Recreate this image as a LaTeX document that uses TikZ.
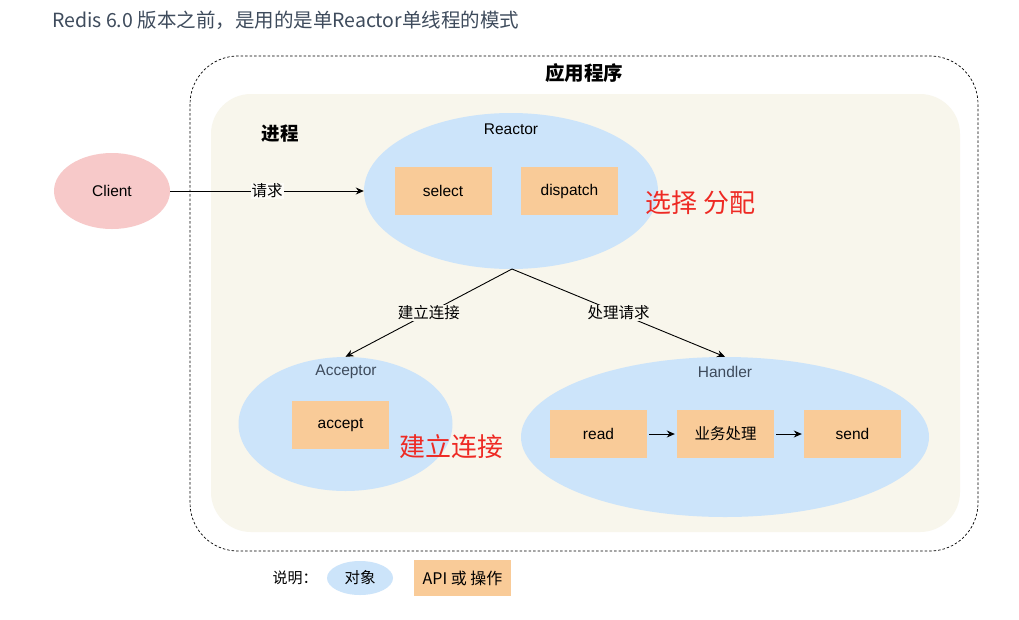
\documentclass[tikz,border=0pt]{standalone}
\usepackage{fontspec}
\setmainfont{Liberation Sans}
\newfontfamily\cjk{Noto Sans CJK SC}
\usetikzlibrary{arrows.meta,shapes.geometric}
\definecolor{beige}{HTML}{F8F6EC}
\definecolor{objblue}{HTML}{CCE4FA}
\definecolor{apiorange}{HTML}{F9CB98}
\definecolor{clientpink}{HTML}{F7C9C9}
\definecolor{slate}{HTML}{3E4B5C}
\definecolor{redtxt}{HTML}{EE2A24}
\tikzset{
  obj/.style={ellipse, fill=objblue, draw=none, inner sep=0pt},
  api/.style={rectangle, fill=apiorange, draw=none, minimum width=97pt, minimum height=48pt, font=\fontsize{15.5}{18}\selectfont},
  conn/.style={draw=black, line width=0.9pt, -{Stealth[length=8pt,width=7pt]}},
  lbl/.style={font=\fontsize{15.5}{18}\selectfont},
  edgelbl/.style={fill=beige, inner sep=1pt, font=\cjk\fontsize{15.5}{18}\selectfont},
  note/.style={text=redtxt, font=\cjk\fontsize{26}{30}\selectfont},
}
\begin{document}
\begin{tikzpicture}[x=1pt,y=-1pt]
\useasboundingbox[fill=white] (0,0) rectangle (1019,619);
% title
\node[anchor=west, text=slate, font=\cjk\fontsize{19.5}{22}\selectfont, inner sep=0pt] (title) at (52,20) {Redis 6.0 版本之前，是用的是单Reactor单线程的模式};
% outer application box
\draw[dashed, dash pattern=on 2.5pt off 2pt, rounded corners=48pt, line width=0.7pt] (190,56) rectangle (978,551);
\node[font=\cjk\bfseries\fontsize{19.5}{22}\selectfont] (app) at (584,73) {应用程序};
% inner process box
\fill[beige, rounded corners=40pt] (211,94) rectangle (960,532);
\node[font=\cjk\bfseries\fontsize{18.5}{21}\selectfont] (proc) at (280,134) {进程};
% client
\node[ellipse, fill=clientpink, minimum width=116pt, minimum height=76pt, inner sep=0pt, lbl] (client) at (112,191) {Client};
% reactor
\node[obj, minimum width=294pt, minimum height=156pt] (reactor) at (511,191) {};
\node[lbl] (reactorlbl) at (511,129) {Reactor};
\node[api] (select) at (443,191) {select};
\node[api] (dispatch) at (569.5,191) {dispatch};
\node[note, anchor=west] (n1) at (642,203) {选择 分配};
% acceptor
\node[obj, minimum width=214pt, minimum height=134pt] (acceptor) at (345.5,424) {};
\node[lbl, text=slate] (acclbl) at (346,372) {Acceptor};
\node[api] (accept) at (340.5,425) {accept};
\node[note, anchor=west] (n2) at (396,447) {建立连接};
% handler
\node[obj, minimum width=408pt, minimum height=160pt] (handler) at (725,437) {};
\node[lbl, text=slate] (hlbl) at (725,372) {Handler};
\node[api] (read) at (598.5,434) {read};
\node[api, font=\cjk\fontsize{15.5}{18}\selectfont] (biz) at (725.5,434) {业务处理};
\node[api] (send) at (852.5,434) {send};
% connectors
\coordinate (rb) at (512,269);
\draw[conn] (client.east) -- node[edgelbl, fill=beige!40!white] {请求} (reactor.west);
\draw[conn] (rb) -- node[edgelbl, pos=0.5] {建立连接} (acceptor.north);
\draw[conn] (rb) -- node[edgelbl, pos=0.5] {处理请求} (handler.north);
\draw[conn] ([xshift=2pt]read.east) -- ([xshift=-2pt]biz.west);
\draw[conn] ([xshift=2pt]biz.east) -- ([xshift=-2pt]send.west);
% legend
\node[font=\cjk\fontsize{15}{18}\selectfont] (legend) at (295,578) {说明：};
\node[obj, minimum width=66pt, minimum height=34pt, font=\cjk\fontsize{15.5}{18}\selectfont] (legobj) at (360,578) {对象};
\node[api, minimum width=97pt, minimum height=36pt, font=\cjk\fontsize{16}{18}\selectfont] (legapi) at (462.5,578) {API 或 操作};
\end{tikzpicture}
\end{document}
